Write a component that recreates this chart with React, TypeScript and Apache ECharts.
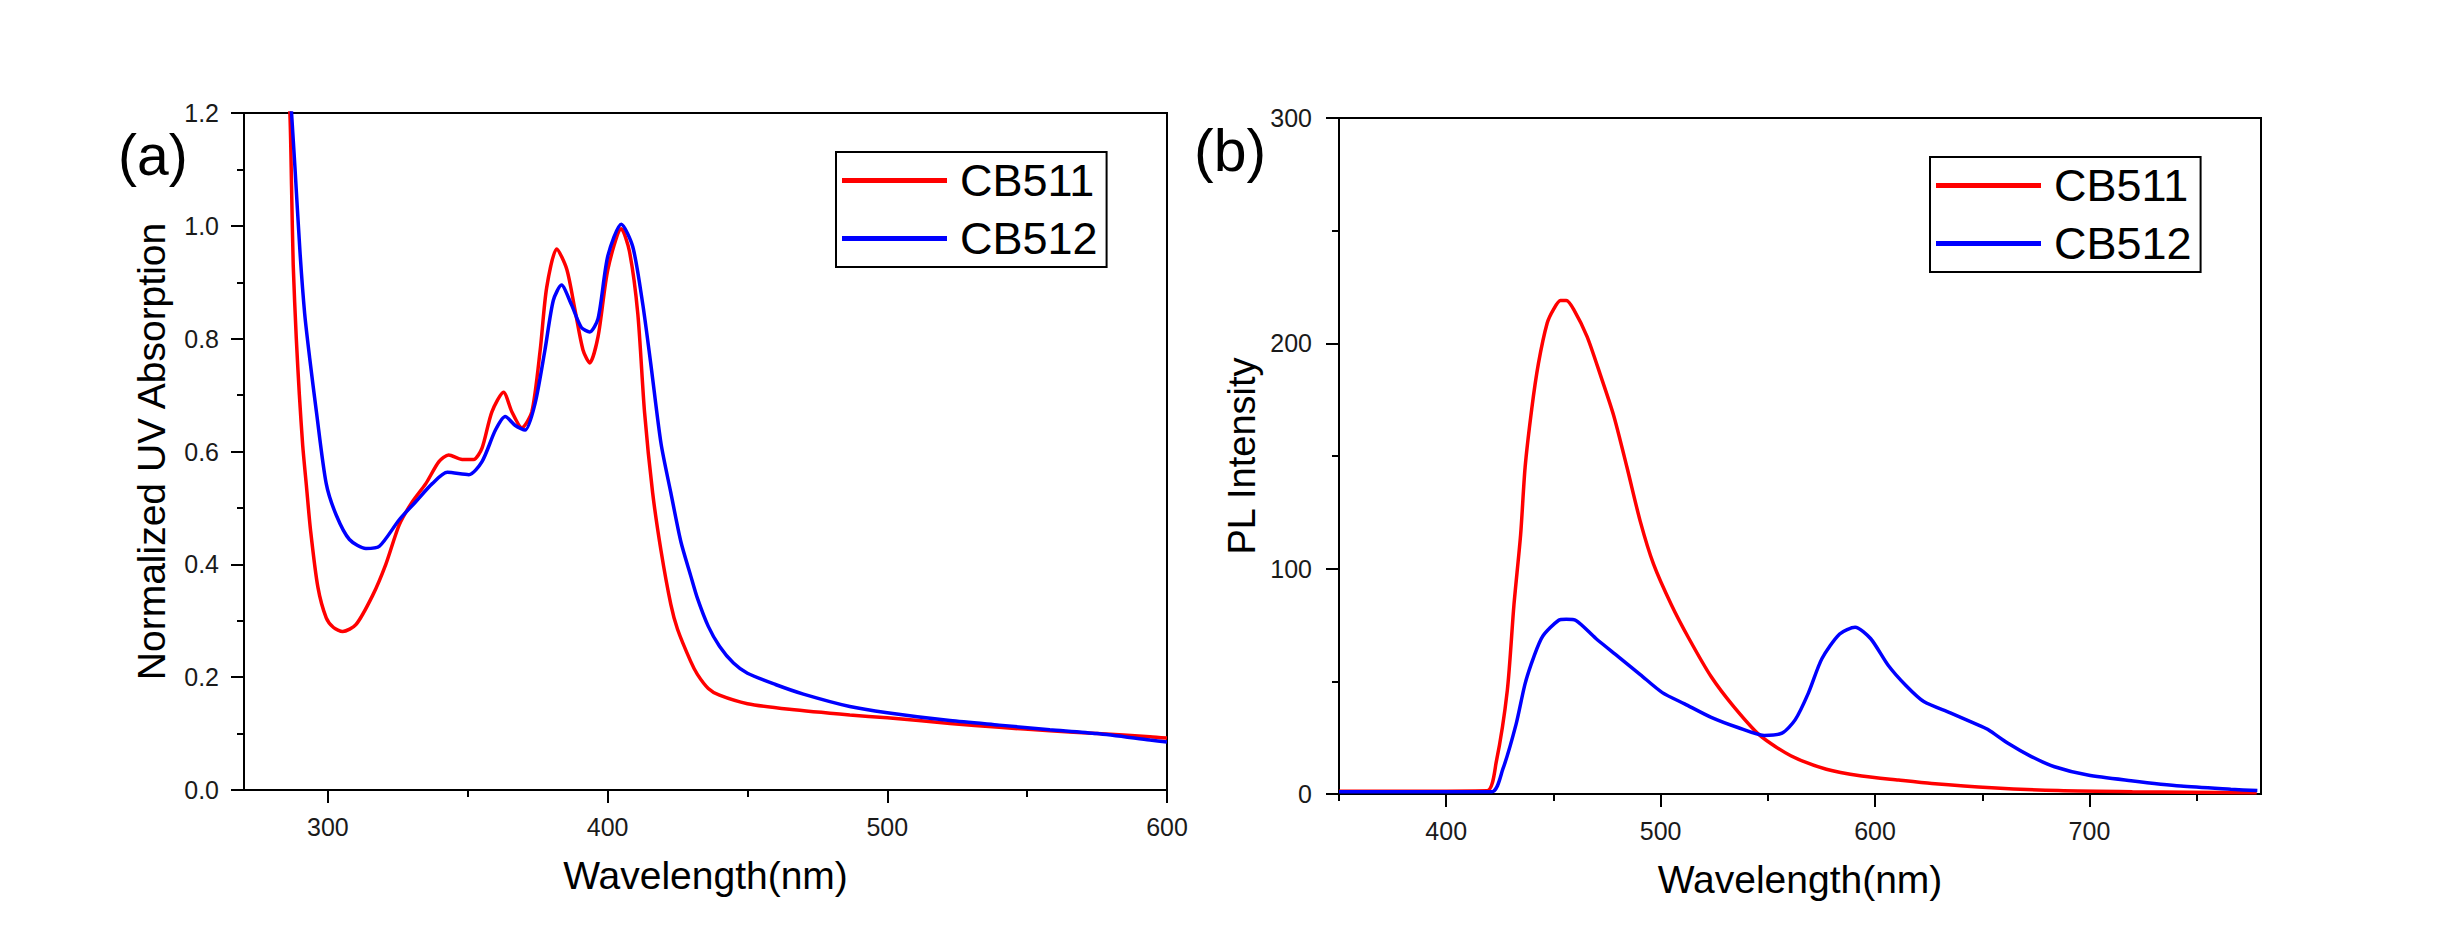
import React, { useEffect, useRef } from "react";
import * as echarts from "echarts";

// ---- Data ----
const absCB511: [number, number][] = [
  [285, 1.3], [286.4, 1.2], [287, 1.07], [287.6, 0.93], [288.7, 0.8], [289.8, 0.7], [291, 0.61], [292.3, 0.54],
  [293.8, 0.46], [296.4, 0.36], [299.4, 0.305], [302, 0.288], [305.3, 0.281], [310, 0.293], [316, 0.345],
  [320.7, 0.4], [325.5, 0.47], [330.2, 0.511], [335, 0.543], [339.7, 0.582], [343.2, 0.594], [348, 0.586],
  [352.1, 0.586], [355.1, 0.606], [358.6, 0.67], [362.8, 0.705], [365.8, 0.67], [369.3, 0.642], [372.9, 0.67],
  [375.9, 0.78], [378.2, 0.89], [381.8, 0.959], [385.4, 0.923], [388.3, 0.852], [391.2, 0.78], [393.6, 0.757],
  [396.6, 0.804], [400.1, 0.923], [404.9, 0.995], [407.8, 0.955], [410.8, 0.844], [413.2, 0.67], [416.1, 0.527],
  [419.1, 0.424], [422.6, 0.329], [425, 0.285], [429.7, 0.228], [432.1, 0.205], [436, 0.18], [440, 0.168],
  [450, 0.153], [465, 0.143], [486.6, 0.133], [500, 0.128], [522.4, 0.118], [540, 0.111], [558.1, 0.105],
  [575, 0.1], [593.9, 0.0945], [600, 0.092],
];

const absCB512: [number, number][] = [
  [286, 1.28], [287, 1.2], [288.2, 1.105], [290, 0.955], [291.7, 0.844], [293.5, 0.765], [295.9, 0.67],
  [299.4, 0.543], [303, 0.487], [307.7, 0.444], [313.6, 0.428], [318.4, 0.432], [325.5, 0.479], [331.4, 0.511],
  [337.3, 0.543], [342.7, 0.563], [350.4, 0.559], [355.1, 0.582], [359.9, 0.638], [363.4, 0.662], [367, 0.646],
  [370.5, 0.638], [374.1, 0.686], [377.6, 0.78], [380.6, 0.868], [383.5, 0.895], [387.1, 0.86], [390.6, 0.82],
  [393.6, 0.812], [396.6, 0.836], [400.1, 0.947], [404.9, 1.003], [409, 0.963], [412.6, 0.86], [415.6, 0.749],
  [419.1, 0.614], [422.6, 0.527], [426.2, 0.44], [429.7, 0.38], [432.1, 0.34], [436, 0.29], [440, 0.255],
  [445, 0.225], [450, 0.207], [460, 0.187], [470, 0.17], [486.6, 0.148], [500, 0.137], [522.4, 0.123],
  [540, 0.115], [558.1, 0.107], [575, 0.1], [593.9, 0.0886], [600, 0.085],
];

const plCB511: [number, number][] = [
  [350, 1.2], [380, 1.2], [419, 1.4], [423.3, 14], [428.5, 46], [431.6, 84], [434.7, 115], [436.8, 145],
  [439.9, 171], [443, 191], [447.1, 209], [450, 215], [453.3, 219], [456, 219], [459.5, 215], [465.7, 203],
  [471.9, 186], [478.1, 168], [484.3, 145], [490.5, 121], [496.7, 102], [505, 84], [513.2, 69], [523.6, 52],
  [533.9, 39], [546.3, 26], [560.7, 17], [577.3, 11], [593.8, 8], [611, 6.2], [626.5, 4.7], [654.4, 2.8],
  [685.4, 1.5], [720, 1], [778, 0.6],
];

const plCB512: [number, number][] = [
  [350, 1], [421.3, 1], [426.4, 11], [432.6, 31], [436.8, 49], [440.9, 61], [445, 70], [452.3, 77],
  [456, 77.5], [460.5, 77], [469.8, 69], [480.2, 61], [490.5, 53], [500.8, 45], [511.2, 40], [523.6, 34],
  [536, 29.5], [548.3, 26], [556.6, 27], [562.8, 33], [569, 45], [575.2, 60], [583.5, 71], [590.7, 74],
  [597.9, 69], [606.2, 57], [614.5, 48], [622.7, 41], [635.1, 36], [649.6, 30], [653, 28.4], [662, 22.5],
  [672.9, 16.6], [683.7, 12.1], [699.2, 8.4], [719.4, 5.9], [742.6, 3.5], [765.9, 2.1], [778.3, 1.5],
];

const seriesNames = ["CB511", "CB512"];
const absMajorTicks = [300, 400, 500, 600];
const absMinorTicks = [350, 450, 550];
const plMajorTicks = [400, 500, 600, 700];
const plMinorTicks = [350, 450, 550, 650, 750];

const FONT = "Liberation Sans, Arial, sans-serif";
const RED = "#ff0000";
const BLUE = "#0000ff";

export default function App() {
  const ref = useRef<HTMLDivElement>(null);

  useEffect(() => {
    if (!ref.current) return;
    const chart = echarts.init(ref.current, undefined, { renderer: "svg" });

    const axisLine = { show: true, onZero: false, lineStyle: { color: "#000", width: 2 } };
    const labelStyle = { fontSize: 25, fontFamily: FONT, color: "#1a1a1a" };
    const nameStyle = { fontSize: 39, fontFamily: FONT, color: "#000" };

    const mainX = (gridIndex: number, min: number, max: number, ticks: number[], name: string) => ({
      type: "value",
      gridIndex,
      min,
      max,
      position: "bottom",
      axisLine,
      axisTick: { show: true, inside: false, length: 13, customValues: ticks, lineStyle: { color: "#000", width: 2 } },
      axisLabel: { show: true, customValues: ticks, margin: 24, ...labelStyle },
      splitLine: { show: false },
      name,
      nameLocation: "middle",
      nameGap: 66,
      nameTextStyle: nameStyle,
    });
    const minorX = (gridIndex: number, min: number, max: number, ticks: number[]) => ({
      type: "value",
      gridIndex,
      min,
      max,
      position: "bottom",
      axisLine: { show: false },
      axisTick: { show: true, inside: false, length: 7, customValues: ticks, lineStyle: { color: "#000", width: 2 } },
      axisLabel: { show: false },
      splitLine: { show: false },
    });

    const legendBase = {
      orient: "vertical",
      borderColor: "#000",
      borderWidth: 2,
      itemWidth: 105,
      itemHeight: 5,
      itemGap: 13,
      icon: "rect",
      textStyle: { fontSize: 45, fontFamily: FONT, color: "#000", padding: [0, 0, 0, 8] },
      data: seriesNames,
      selectedMode: false,
    };

    const lineSeries = (name: string, xi: number, yi: number, data: [number, number][], color: string) => ({
      name,
      type: "line",
      xAxisIndex: xi,
      yAxisIndex: yi,
      data,
      symbol: "none",
      smooth: 0.25,
      clip: true,
      lineStyle: { color, width: 3.5 },
      itemStyle: { color },
    });

    const option: any = {
      animation: false,
      backgroundColor: "#fff",
      grid: [
        { left: 244, top: 113, width: 923, height: 677, show: true, borderColor: "#000", borderWidth: 2, backgroundColor: "transparent" },
        { left: 1339, top: 118, width: 922, height: 676, show: true, borderColor: "#000", borderWidth: 2, backgroundColor: "transparent" },
      ],
      xAxis: [
        mainX(0, 270, 600, absMajorTicks, "Wavelength(nm)"),
        minorX(0, 270, 600, absMinorTicks),
        mainX(1, 350, 780, plMajorTicks, "Wavelength(nm)"),
        minorX(1, 350, 780, plMinorTicks),
      ],
      yAxis: [
        {
          type: "value",
          gridIndex: 0,
          min: 0,
          max: 1.2,
          interval: 0.2,
          axisLine,
          axisTick: { show: true, inside: false, length: 13, lineStyle: { color: "#000", width: 2 } },
          minorTick: { show: true, splitNumber: 2, length: 7, lineStyle: { color: "#000", width: 2 } },
          axisLabel: { margin: 25, formatter: (v: number) => v.toFixed(1), ...labelStyle },
          splitLine: { show: false },
          minorSplitLine: { show: false },
          name: "Normalized UV Absorption",
          nameLocation: "middle",
          nameGap: 73,
          nameTextStyle: nameStyle,
        },
        {
          type: "value",
          gridIndex: 1,
          min: 0,
          max: 300,
          interval: 100,
          axisLine,
          axisTick: { show: true, inside: false, length: 13, lineStyle: { color: "#000", width: 2 } },
          minorTick: { show: true, splitNumber: 2, length: 7, lineStyle: { color: "#000", width: 2 } },
          axisLabel: { margin: 27, ...labelStyle },
          splitLine: { show: false },
          minorSplitLine: { show: false },
          name: "PL Intensity",
          nameLocation: "middle",
          nameGap: 78,
          nameTextStyle: { ...nameStyle, fontSize: 38 },
        },
      ],
      legend: [
        { ...legendBase, left: 836, top: 152, padding: [6, 9, 6, 6] },
        { ...legendBase, left: 1930, top: 157, padding: [6, 9, 6, 6] },
      ],
      graphic: [
        { type: "text", left: 118, top: 126, style: { text: "(a)", fontSize: 57, fontFamily: FONT, fill: "#000" } },
        { type: "text", left: 1194, top: 121, style: { text: "(b)", fontSize: 59, fontFamily: FONT, fill: "#000" } },
      ],
      series: [
        lineSeries("CB511", 0, 0, absCB511, RED),
        lineSeries("CB512", 0, 0, absCB512, BLUE),
        lineSeries("CB511", 2, 1, plCB511, RED),
        lineSeries("CB512", 2, 1, plCB512, BLUE),
      ],
    };

    chart.setOption(option);
    return () => chart.dispose();
  }, []);

  return <div ref={ref} style={{ position: "fixed", left: 0, top: 0, width: 2450, height: 952, background: "#fff" }} />;
}
